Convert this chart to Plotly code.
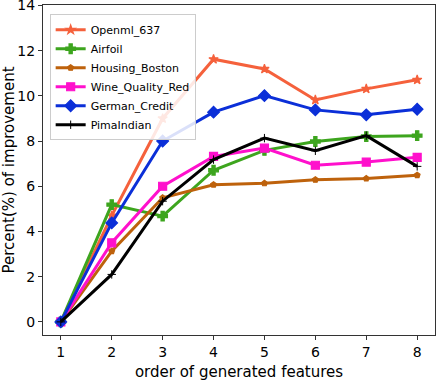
import plotly.graph_objects as go

x_order = [1, 2, 3, 4, 5, 6, 7, 8]
series_names = ["Openml_637", "Airfoil", "Housing_Boston", "Wine_Quality_Red", "German_Credit", "PimaIndian"]
openml_637 = [0, 4.7, 9.0, 11.62, 11.19, 9.82, 10.31, 10.71]
airfoil = [0, 5.19, 4.68, 6.71, 7.59, 7.98, 8.2, 8.24]
housing_boston = [0, 3.13, 5.49, 6.07, 6.13, 6.29, 6.34, 6.49]
wine_quality_red = [0, 3.5, 6.0, 7.32, 7.69, 6.93, 7.07, 7.28]
german_credit = [0, 4.38, 8.0, 9.28, 10.01, 9.38, 9.16, 9.41]
pima_indian = [0, 2.1, 5.34, 7.18, 8.13, 7.57, 8.24, 6.88]
y_ticks = [0, 2, 4, 6, 8, 10, 12, 14]

values = [openml_637, airfoil, housing_boston, wine_quality_red, german_credit, pima_indian]
colors = ["#F5613C", "#3DA51E", "#BE620C", "#FF10CC", "#0B2FD8", "#000000"]
symbols = ["star", "cross", "pentagon", "square", "diamond", "cross-thin-open"]
sizes = [7, 8, 6, 8, 9, 6]
mline = [1.2, 1.2, 1.2, 1.2, 1.2, 1.0]

fig = go.Figure()
for name, vals, c, s, sz, mw in zip(series_names, values, colors, symbols, sizes, mline):
    fig.add_trace(go.Scatter(
        x=x_order, y=vals, name=name, mode="lines+markers",
        line=dict(color=c, width=3),
        marker=dict(symbol=s, size=sz, color=c, line=dict(color=c, width=mw)),
    ))

fig.update_layout(
    width=436, height=381,
    margin=dict(l=43, r=1, t=5, b=46),
    plot_bgcolor="white", paper_bgcolor="white",
    font=dict(family="DejaVu Sans", color="black"),
    showlegend=True,
    legend=dict(x=0.017, y=0.972, xanchor="left", yanchor="top",
                bgcolor="rgba(255,255,255,0.85)", bordercolor="#cccccc", borderwidth=1,
                font=dict(size=11, family="DejaVu Sans"), itemwidth=30,
                tracegroupgap=0),
)
fig.update_xaxes(range=[0.65, 8.35], tickvals=x_order, showgrid=False, zeroline=False,
                 automargin=False, ticklabeloverflow="allow",
                 showline=True, linecolor="#333333", linewidth=1.2, mirror=True,
                 ticks="outside", ticklen=4, tickcolor="#333333",
                 tickfont=dict(size=14), title=dict(text="order of generated features", font=dict(size=15)))
fig.update_yaxes(range=[-0.58, 14.02], tickvals=y_ticks, showgrid=False, zeroline=False,
                 automargin=False, ticklabeloverflow="allow",
                 showline=True, linecolor="#333333", linewidth=1.2, mirror=True,
                 ticks="outside", ticklen=4, tickcolor="#333333",
                 tickfont=dict(size=14), title=dict(text="Percent(%) of improvement", font=dict(size=15)))

fig.write_html("out.html", config={"displayModeBar": False},
               post_script="document.body.style.margin='0';document.body.style.overflow='hidden';")
